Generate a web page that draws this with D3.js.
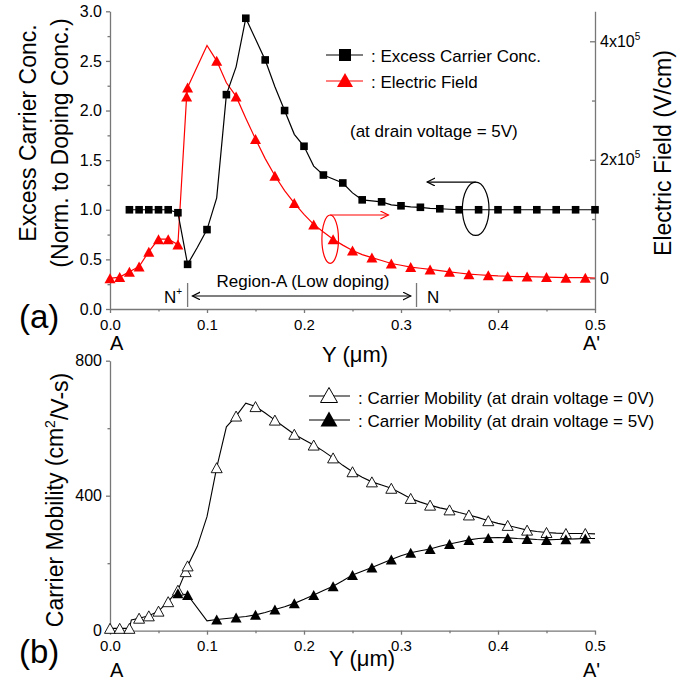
<!DOCTYPE html>
<html>
<head>
<meta charset="utf-8">
<script src="https://cdn.jsdelivr.net/npm/d3@7"></script>
<style>
  body { margin: 0; background: #fff; }
  svg { display: block; }
  text { font-family: "Liberation Sans", Arial, sans-serif; }
</style>
</head>
<body>
<svg id="chart" width="686" height="680"></svg>
<script>
// ---- data ----
const xTicks = [0, 0.1, 0.2, 0.3, 0.4, 0.5];
const xMinor = [0.05, 0.15, 0.25, 0.35, 0.45];
const concTicks = [0, 0.5, 1, 1.5, 2, 2.5, 3];
const concMinor = [0.25, 0.75, 1.25, 1.75, 2.25, 2.75];
const fieldTicks = [0, 2, 4]; // x10^5 V/cm
const fieldMinor = [1, 3];
const mobTicks = [0, 400, 800];
const mobMinor = [200, 600];

// excess carrier conc. (normalized)
const carrierData = [
    [0.02, 1.0], [0.03, 1.0], [0.04, 1.0], [0.05, 1.0], [0.06, 1.0], [0.07, 0.97],
    [0.08, 0.45], [0.09, 0.62], [0.1, 0.8], [0.11, 1.12], [0.12, 2.16], [0.13, 2.44],
    [0.14, 2.93], [0.15, 2.72], [0.16, 2.51], [0.17, 2.24], [0.18, 2.0], [0.19, 1.76],
    [0.2, 1.64], [0.21, 1.44], [0.22, 1.35], [0.23, 1.31], [0.24, 1.27], [0.25, 1.17],
    [0.26, 1.1], [0.27, 1.09], [0.28, 1.08], [0.29, 1.05], [0.3, 1.04], [0.31, 1.03],
    [0.32, 1.025], [0.33, 1.015], [0.34, 1.01], [0.35, 1.005], [0.36, 1.0], [0.38, 1.0],
    [0.4, 1.0], [0.42, 1.0], [0.44, 1.0], [0.46, 1.0], [0.48, 1.0], [0.5, 1.0]
];
const carrierMarks = [0.02, 0.03, 0.04, 0.05, 0.06, 0.07, 0.08, 0.1, 0.12, 0.14, 0.16,
    0.18, 0.2, 0.22, 0.24, 0.26, 0.28, 0.3, 0.32, 0.34, 0.36, 0.38, 0.4, 0.42, 0.44,
    0.46, 0.48, 0.5];

// electric field, units of 1e5 V/cm
const fieldData = [
    [0.0, 0.0], [0.01, 0.02], [0.02, 0.11], [0.03, 0.2], [0.04, 0.45], [0.05, 0.66],
    [0.06, 0.66], [0.07, 0.57], [0.079, 3.07], [0.08, 3.22], [0.1, 3.93], [0.11, 3.67],
    [0.12, 3.3], [0.13, 3.07], [0.14, 2.7], [0.15, 2.35], [0.16, 2.02], [0.17, 1.73],
    [0.18, 1.48], [0.19, 1.27], [0.2, 1.08], [0.21, 0.91], [0.22, 0.78], [0.23, 0.66],
    [0.24, 0.56], [0.25, 0.47], [0.26, 0.4], [0.27, 0.35], [0.28, 0.3], [0.29, 0.25],
    [0.3, 0.22], [0.31, 0.19], [0.32, 0.17], [0.33, 0.15], [0.34, 0.13], [0.35, 0.11],
    [0.36, 0.09], [0.37, 0.07], [0.38, 0.06], [0.39, 0.05], [0.4, 0.04], [0.41, 0.035],
    [0.42, 0.03], [0.43, 0.03], [0.44, 0.025], [0.45, 0.02], [0.46, 0.015], [0.47, 0.01],
    [0.48, 0.01], [0.49, 0.01], [0.5, 0.005]
];
const fieldMarks = [0.0, 0.01, 0.02, 0.03, 0.04, 0.05, 0.06, 0.07, 0.079, 0.08, 0.11,
    0.13, 0.15, 0.17, 0.19, 0.21, 0.23, 0.25, 0.27, 0.29, 0.31, 0.33, 0.35, 0.37, 0.39,
    0.41, 0.43, 0.45, 0.47, 0.49];

// carrier mobility, cm2/V-s
const mob0Data = [
    [0.0, 7], [0.01, 7], [0.02, 7], [0.022, 32], [0.03, 37], [0.04, 44], [0.05, 58],
    [0.06, 86], [0.07, 120], [0.078, 175], [0.08, 192], [0.09, 250], [0.1, 338],
    [0.11, 483], [0.12, 604], [0.13, 636], [0.14, 674], [0.15, 664], [0.16, 645],
    [0.17, 624], [0.18, 603], [0.19, 582], [0.2, 566], [0.21, 550], [0.22, 532],
    [0.23, 512], [0.24, 490], [0.25, 471], [0.26, 455], [0.27, 441], [0.28, 432],
    [0.29, 422], [0.3, 407], [0.31, 392], [0.32, 381], [0.33, 372], [0.34, 364],
    [0.35, 358], [0.36, 350], [0.37, 343], [0.38, 335], [0.39, 326], [0.4, 318],
    [0.41, 312], [0.42, 305], [0.43, 298], [0.44, 294], [0.45, 291], [0.46, 289],
    [0.47, 288], [0.48, 288], [0.49, 288], [0.5, 287]
];
const mob0Marks = [0.0, 0.01, 0.02, 0.03, 0.04, 0.05, 0.06, 0.07, 0.078, 0.08, 0.11,
    0.13, 0.15, 0.17, 0.19, 0.21, 0.23, 0.25, 0.27, 0.29, 0.31, 0.33, 0.35, 0.37, 0.39,
    0.41, 0.43, 0.45, 0.47, 0.49];
const mob5Data = [
    [0.07, 111], [0.08, 106], [0.1, 29], [0.11, 33], [0.12, 36], [0.13, 39], [0.14, 42],
    [0.15, 47], [0.16, 54], [0.17, 63], [0.18, 71], [0.19, 81], [0.2, 93], [0.21, 106],
    [0.22, 119], [0.23, 132], [0.24, 148], [0.25, 165], [0.26, 176], [0.27, 187],
    [0.28, 199], [0.29, 211], [0.3, 222], [0.31, 231], [0.32, 237], [0.33, 242],
    [0.34, 250], [0.35, 257], [0.36, 263], [0.37, 269], [0.38, 273], [0.39, 275],
    [0.4, 276], [0.41, 275], [0.42, 273], [0.43, 272], [0.44, 270], [0.45, 269],
    [0.46, 270], [0.47, 271], [0.48, 272], [0.49, 273], [0.5, 273]
];
const mob5Marks = [0.07, 0.08, 0.11, 0.13, 0.15, 0.17, 0.19, 0.21, 0.23, 0.25, 0.27,
    0.29, 0.31, 0.33, 0.35, 0.37, 0.39, 0.41, 0.43, 0.45, 0.47, 0.49];

// ---- setup ----
const FONT = '"Liberation Sans", Arial, sans-serif';
const AXIS = "#777";
const svg = d3.select("#chart");

const x = d3.scaleLinear().domain([0, 0.5]).range([110, 595]);
const yC = d3.scaleLinear().domain([0, 3]).range([309, 11.3]);
const yE = d3.scaleLinear().domain([-0.518, 4.506]).range([309, 11.3]);
const yM = d3.scaleLinear().domain([0, 800]).range([630.7, 360.7]);

const defs = svg.append("defs");
[["arrK", "#000"], ["arrR", "#f00"]].forEach(([id, c]) => {
    defs.append("marker")
        .attr("id", id)
        .attr("markerUnits", "userSpaceOnUse")
        .attr("markerWidth", 10).attr("markerHeight", 10)
        .attr("refX", 8).attr("refY", 4)
        .attr("orient", "auto-start-reverse")
        .append("path")
        .attr("d", "M0,0 L8,4 L0,8")
        .attr("fill", "none")
        .attr("stroke", c)
        .attr("stroke-width", 1.2);
});

function styleAxis(g, size) {
    g.attr("font-family", FONT).attr("font-size", size);
    g.selectAll("path, line").attr("stroke", AXIS).attr("stroke-width", 1.3);
    g.selectAll("text").attr("fill", "#000");
}

function drawAxis(gen, minorGen, tx, ty, size) {
    const g = svg.append("g").attr("transform", `translate(${tx},${ty})`).call(gen);
    styleAxis(g, size);
    if (minorGen) {
        const m = svg.append("g").attr("transform", `translate(${tx},${ty})`).call(minorGen);
        m.select(".domain").remove();
        m.selectAll("line").attr("stroke", AXIS).attr("stroke-width", 1.3);
    }
    return g;
}

const tri = (w, h) => `M0,${-h / 2}L${w / 2},${h / 2}L${-w / 2},${h / 2}Z`;
const near = (list) => (d) => list.some((v) => Math.abs(v - d[0]) < 1e-6);

// ---- panel (a) ----
drawAxis(
    d3.axisBottom(x).tickValues(xTicks).tickFormat(d3.format(".1f")).tickSizeInner(4).tickSizeOuter(0).tickPadding(6),
    d3.axisBottom(x).tickValues(xMinor).tickFormat("").tickSize(2.5),
    0, 309, 15
);
drawAxis(
    d3.axisLeft(yC).tickValues(concTicks).tickFormat(d3.format(".1f")).tickSizeInner(4).tickSizeOuter(0).tickPadding(4),
    d3.axisLeft(yC).tickValues(concMinor).tickFormat("").tickSize(2.5),
    110, 0, 16
);
const rAx = drawAxis(
    d3.axisRight(yE).tickValues(fieldTicks).tickFormat("").tickSizeInner(-5).tickSizeOuter(0).tickPadding(5),
    d3.axisRight(yE).tickValues(fieldMinor).tickFormat("").tickSize(-3),
    595, 0, 16
);
rAx.selectAll(".tick text").each(function (d) {
    const t = d3.select(this);
    if (d === 0) { t.text("0"); return; }
    t.append("tspan").text(`${d}x10`);
    t.append("tspan").text("5").attr("font-size", 10).attr("dy", "-0.7em");
});

const lineC = d3.line().x((d) => x(d[0])).y((d) => yC(d[1]));
const lineE = d3.line().x((d) => x(d[0])).y((d) => yE(d[1]));

svg.append("path").datum(fieldData)
    .attr("d", lineE).attr("fill", "none").attr("stroke", "#f00").attr("stroke-width", 1.2);
svg.append("path").datum(carrierData)
    .attr("d", lineC).attr("fill", "none").attr("stroke", "#000").attr("stroke-width", 1.2);

svg.append("g").selectAll("path")
    .data(fieldData.filter(near(fieldMarks)))
    .enter().append("path")
    .attr("d", tri(11, 10))
    .attr("transform", (d) => `translate(${x(d[0])},${yE(d[1])})`)
    .attr("fill", "#f00");

svg.append("g").selectAll("rect")
    .data(carrierData.filter(near(carrierMarks)))
    .enter().append("rect")
    .attr("x", (d) => x(d[0]) - 3.8)
    .attr("y", (d) => yC(d[1]) - 3.8)
    .attr("width", 7.6).attr("height", 7.6)
    .attr("fill", "#000");

// legend (a)
svg.append("line").attr("x1", 326).attr("x2", 363).attr("y1", 55).attr("y2", 55)
    .attr("stroke", "#000").attr("stroke-width", 1.2);
svg.append("rect").attr("x", 339).attr("y", 49).attr("width", 12).attr("height", 12).attr("fill", "#000");
svg.append("line").attr("x1", 326).attr("x2", 363).attr("y1", 81).attr("y2", 81)
    .attr("stroke", "#f00").attr("stroke-width", 1.2);
svg.append("path").attr("d", tri(16, 14)).attr("transform", "translate(345,80)").attr("fill", "#f00");

const label = (t, px, py, size, opts = {}) => {
    const el = svg.append("text").attr("x", px).attr("y", py)
        .attr("font-size", size).attr("fill", "#000").text(t);
    if (opts.anchor) el.attr("text-anchor", opts.anchor);
    if (opts.rotate) el.attr("transform", `rotate(-90,${px},${py})`).attr("dy", "0.35em");
    return el;
};

label(": Excess Carrier Conc.", 371, 62, 17);
label(": Electric Field", 371, 88, 17);
label("(at drain voltage = 5V)", 350, 137, 17);

// ellipses with arrows
const ek = { cx: x(0.377), cy: yC(1.01), rx: 13.3, ry: 26.7 };
svg.append("ellipse").attr("cx", ek.cx).attr("cy", ek.cy).attr("rx", ek.rx).attr("ry", ek.ry)
    .attr("fill", "none").attr("stroke", "#000").attr("stroke-width", 1.2);
svg.append("line").attr("x1", ek.cx).attr("y1", ek.cy - ek.ry).attr("x2", x(0.327)).attr("y2", ek.cy - ek.ry)
    .attr("stroke", "#000").attr("stroke-width", 1.2).attr("marker-end", "url(#arrK)");

const er = { cx: x(0.227), cy: yE(0.66), rx: 8.3, ry: 24.2 };
svg.append("ellipse").attr("cx", er.cx).attr("cy", er.cy).attr("rx", er.rx).attr("ry", er.ry)
    .attr("fill", "none").attr("stroke", "#f00").attr("stroke-width", 1.2);
svg.append("line").attr("x1", er.cx).attr("y1", er.cy - er.ry).attr("x2", x(0.287)).attr("y2", er.cy - er.ry)
    .attr("stroke", "#f00").attr("stroke-width", 1.2).attr("marker-end", "url(#arrR)");

// region markers
[0.08, 0.316].forEach((v) => {
    svg.append("line").attr("x1", x(v)).attr("x2", x(v)).attr("y1", 283).attr("y2", 307)
        .attr("stroke", AXIS).attr("stroke-width", 1.3);
});
svg.append("line").attr("x1", x(0.085)).attr("x2", x(0.31)).attr("y1", 296).attr("y2", 296)
    .attr("stroke", "#000").attr("stroke-width", 1.2)
    .attr("marker-start", "url(#arrK)").attr("marker-end", "url(#arrK)");
label("Region-A (Low doping)", 303, 287, 17, { anchor: "middle" });
const np = label("N", 164, 303, 17);
np.append("tspan").text("+").attr("font-size", 10).attr("dy", "-0.8em");
label("N", 427, 303, 17);

// axis titles (a)
label("Excess Carrier Conc.", 28, 133, 23, { anchor: "middle", rotate: true });
label("(Norm. to Doping Conc.)", 60, 143, 23, { anchor: "middle", rotate: true });
label("Electric Field (V/cm)", 663, 153, 23, { anchor: "middle", rotate: true });
label("(a)", 19, 328, 33);
label("A", 110, 350, 20);
label("A'", 583, 350, 20);
label("Y (\u03bcm)", 322, 362, 22);

// ---- panel (b) ----
drawAxis(
    d3.axisBottom(x).tickValues(xTicks).tickFormat(d3.format(".1f")).tickSizeInner(4).tickSizeOuter(0).tickPadding(6),
    d3.axisBottom(x).tickValues(xMinor).tickFormat("").tickSize(2.5),
    0, 630.7, 15
);
drawAxis(
    d3.axisLeft(yM).tickValues(mobTicks).tickSizeInner(4).tickSizeOuter(0).tickPadding(4),
    d3.axisLeft(yM).tickValues(mobMinor).tickFormat("").tickSize(2.5),
    110, 0, 16
);

const lineM = d3.line().x((d) => x(d[0])).y((d) => yM(d[1]));
svg.append("path").datum(mob0Data)
    .attr("d", lineM).attr("fill", "none").attr("stroke", "#000").attr("stroke-width", 1.1);
svg.append("path").datum(mob5Data)
    .attr("d", lineM).attr("fill", "none").attr("stroke", "#000").attr("stroke-width", 1.1);

svg.append("g").selectAll("path")
    .data(mob0Data.filter(near(mob0Marks)))
    .enter().append("path")
    .attr("d", tri(11, 10))
    .attr("transform", (d) => `translate(${x(d[0])},${yM(d[1])})`)
    .attr("fill", "#fff").attr("stroke", "#000").attr("stroke-width", 0.9);
svg.append("g").selectAll("path")
    .data(mob5Data.filter(near(mob5Marks)))
    .enter().append("path")
    .attr("d", tri(11, 10))
    .attr("transform", (d) => `translate(${x(d[0])},${yM(d[1])})`)
    .attr("fill", "#000");

// legend (b)
svg.append("line").attr("x1", 309).attr("x2", 350).attr("y1", 396).attr("y2", 396)
    .attr("stroke", "#000").attr("stroke-width", 1.1);
svg.append("path").attr("d", tri(17, 15)).attr("transform", "translate(329,395)")
    .attr("fill", "#fff").attr("stroke", "#000").attr("stroke-width", 1);
svg.append("line").attr("x1", 309).attr("x2", 350).attr("y1", 420).attr("y2", 420)
    .attr("stroke", "#000").attr("stroke-width", 1.1);
svg.append("path").attr("d", tri(17, 15)).attr("transform", "translate(329,419)").attr("fill", "#000");
label(": Carrier Mobility (at drain voltage = 0V)", 358, 404, 17);
label(": Carrier Mobility (at drain voltage = 5V)", 358, 427, 17);

const mt = label("Carrier Mobility (cm", 55, 500, 23, { anchor: "middle", rotate: true });
mt.append("tspan").text("2").attr("font-size", 14).attr("dy", "-0.6em");
mt.append("tspan").text("/V-s)").attr("dy", "0.6em");
mt.attr("dy", null);
mt.attr("y", 500 + 0.35 * 23).attr("transform", `rotate(-90,55,500)`);
label("(b)", 19, 663, 33);
label("A", 110, 677, 20);
label("A'", 583, 677, 20);
label("Y (\u03bcm)", 329, 666, 22);
</script>
</body>
</html>
